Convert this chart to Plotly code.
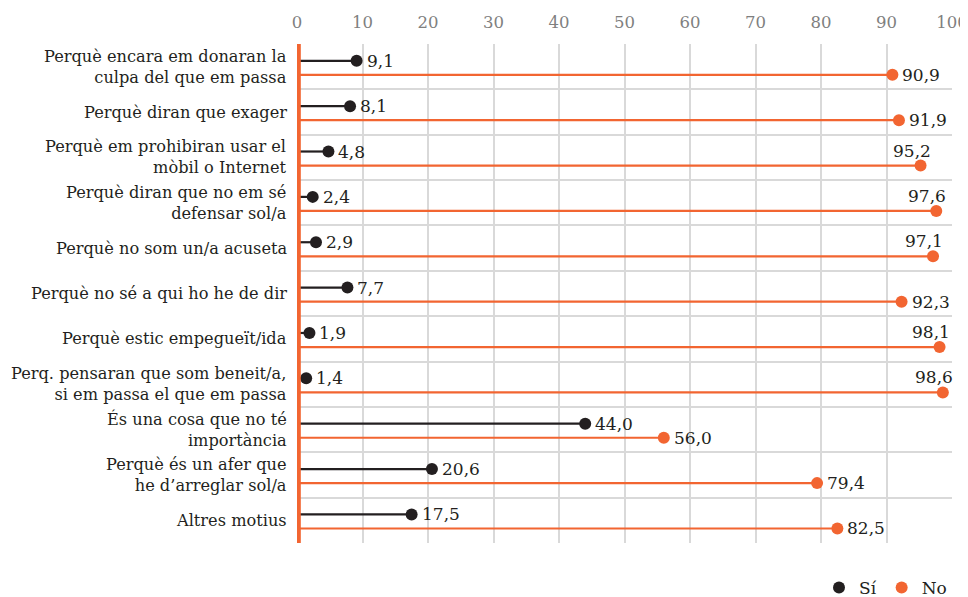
import plotly.graph_objects as go

categories = [
    "Perquè encara em donaran la<br>culpa del que em passa",
    "Perquè diran que exager",
    "Perquè em prohibiran usar el<br>mòbil o Internet",
    "Perquè diran que no em sé<br>defensar sol/a",
    "Perquè no som un/a acuseta",
    "Perquè no sé a qui ho he de dir",
    "Perquè estic empegueït/ida",
    "Perq. pensaran que som beneit/a,<br>si em passa el que em passa",
    "És una cosa que no té<br>importància",
    "Perquè és un afer que<br>he d’arreglar sol/a",
    "Altres motius",
]
si_values = [9.1, 8.1, 4.8, 2.4, 2.9, 7.7, 1.9, 1.4, 44.0, 20.6, 17.5]
no_values = [90.9, 91.9, 95.2, 97.6, 97.1, 92.3, 98.1, 98.6, 56.0, 79.4, 82.5]
x_ticks = list(range(0, 101, 10))

BLACK = "#231F20"
ORANGE = "#F26531"
FONT = "DejaVu Serif"
SI_OFF, NO_OFF = -0.13, 0.18

fig = go.Figure()

def add_series(values, off, color, name):
    xs, ys = [], []
    for i, v in enumerate(values):
        xs += [0, v, None]
        ys += [i + off, i + off, None]
    fig.add_trace(go.Scatter(x=xs, y=ys, mode="lines",
                             line=dict(color=color, width=2.2),
                             showlegend=False, hoverinfo="skip"))
    fig.add_trace(go.Scatter(x=values, y=[i + off for i in range(len(values))],
                             mode="markers", name=name,
                             marker=dict(color=color, size=12)))
    for i, v in enumerate(values):
        txt = f"{v:.1f}".replace(".", ",")
        if v >= 95:
            fig.add_annotation(x=v, y=i + off, text=txt, showarrow=False,
                               xanchor="center", yanchor="middle",
                               xshift=-9, yshift=15,
                               font=dict(family=FONT, size=17, color=BLACK))
        else:
            fig.add_annotation(x=v, y=i + off, text=txt, showarrow=False,
                               xanchor="left", yanchor="middle", xshift=8,
                               font=dict(family=FONT, size=17, color=BLACK))

add_series(si_values, SI_OFF, BLACK, "Sí")
add_series(no_values, NO_OFF, ORANGE, "No")

for i, c in enumerate(categories):
    fig.add_annotation(x=0, xref="paper", y=i, yref="y", text=c,
                       showarrow=False, xanchor="right", yanchor="middle",
                       align="right", xshift=-8,
                       font=dict(family=FONT, size=16.2, color=BLACK))

fig.add_shape(type="line", x0=0.2, x1=0.2, y0=0, y1=1, xref="x", yref="paper",
              line=dict(color=ORANGE, width=5))

n = len(categories)
fig.update_layout(
    width=960, height=589,
    margin=dict(l=289, r=16, t=36, b=54, autoexpand=False),
    plot_bgcolor="white", paper_bgcolor="white",
    font=dict(family=FONT, color=BLACK),
    xaxis=dict(range=[0, 100], side="top", tickvals=x_ticks, automargin=False,
               showgrid=True, gridcolor="#D9D9D9", gridwidth=1.5,
               zeroline=False, showline=False, ticks="", ticklabelstandoff=12,
               tickfont=dict(family=FONT, size=16.5, color="#7F7F7F")),
    yaxis=dict(range=[n - 0.5, -0.5], tickvals=[k - 0.5 for k in range(n + 1)],
               ticktext=["" for _ in range(n + 1)], showgrid=True, automargin=False,
               gridcolor="#D9D9D9", gridwidth=1.5, zeroline=False, ticks=""),
    legend=dict(orientation="h", x=1.0, xanchor="right", y=-0.09, yanchor="middle",
                font=dict(family=FONT, size=17, color=BLACK),
                itemwidth=30, tracegroupgap=0),
    showlegend=True,
)

fig.write_html("out.html")
